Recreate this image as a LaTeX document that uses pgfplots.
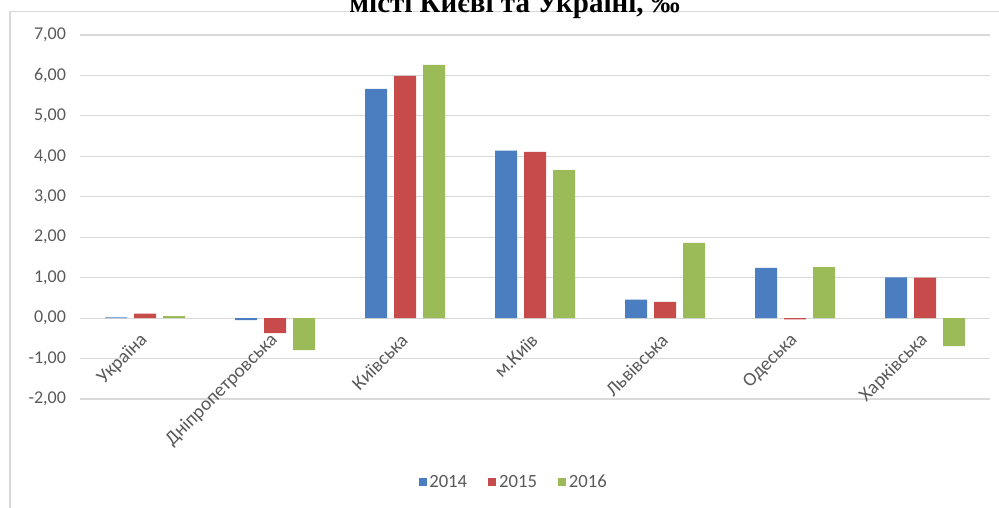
\documentclass[border=0pt]{standalone}
\usepackage{fontspec}
\setmainfont{Carlito}
\newfontfamily\titlefont{Liberation Serif}
\usepackage{pgfplots}
\pgfplotsset{compat=1.18}
\definecolor{cA}{HTML}{4A7EC1}
\definecolor{cB}{HTML}{C84B4B}
\definecolor{cC}{HTML}{9BBB59}
\definecolor{txt}{HTML}{595959}
\definecolor{grd}{HTML}{D9D9D9}
\begin{document}
\begin{tikzpicture}[x=1pt,y=1pt]
\useasboundingbox (0,0) rectangle (749.25,380.25);
\draw[grd, line width=1pt] (7.5,-20) -- (7.5,371.5) -- (770,371.5);
\node[anchor=base, inner sep=0pt, font=\titlefont\bfseries\fontsize{21.75}{24}\selectfont] at (386,371) {місті Києві та Україні, ‰};
\begin{axis}[
  at={(60pt,81pt)}, anchor=south west,
  scale only axis, width=682.5pt, height=273pt,
  ybar=5.25pt, bar width=16.5pt,
  xmin=-0.5, xmax=6.5, ymin=-2, ymax=7,
  enlargelimits=false,
  axis line style={draw=none},
  tick style={draw=none},
  xtick={0,1,2,3,4,5,6},
  xticklabels={Україна,Дніпропетровська,Київська,м.Київ,Львівська,Одеська,Харківська},
  xticklabel style={rotate=45, anchor=east, font=\fontsize{14.5}{16}\selectfont, text=txt, xshift=3pt},
  xticklabel shift=-51pt,
  ytick={-2,-1,0,1,2,3,4,5,6,7},
  yticklabel style={font=\fontsize{13.5}{15}\selectfont, text=txt, xshift=-7pt},
  /pgf/number format/.cd, fixed, fixed zerofill, precision=2, use comma, assume math mode=true,
  /pgfplots/.cd,
  ymajorgrids, grid style={draw=grd, line width=0.9pt},
  legend style={at={(0.477,-0.228)}, anchor=center, draw=none, fill=none,
    font=\fontsize{14}{16}\selectfont, text=txt, legend columns=3,
    /tikz/every even column/.append style={column sep=14pt}},
  legend image code/.code={\fill[#1, draw=none] (0pt,-2.8pt) rectangle (6pt,3.2pt);},
]
\addplot[fill=cA, draw=none] coordinates {(0,0.02) (1,-0.05) (2,5.67) (3,4.14) (4,0.46) (5,1.24) (6,1.01)};
\addplot[fill=cB, draw=none] coordinates {(0,0.11) (1,-0.37) (2,5.99) (3,4.11) (4,0.40) (5,-0.03) (6,1.00)};
\addplot[fill=cC, draw=none] coordinates {(0,0.05) (1,-0.79) (2,6.26) (3,3.66) (4,1.86) (5,1.26) (6,-0.69)};
\legend{2014,2015,2016}
\end{axis}
\end{tikzpicture}
\end{document}
